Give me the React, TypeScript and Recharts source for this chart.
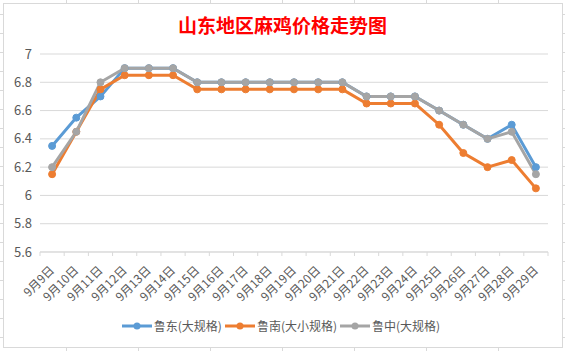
import React from 'react';
import { LineChart, Line, XAxis, YAxis, CartesianGrid, Legend } from 'recharts';

const categories = [
  '9月9日', '9月10日', '9月11日', '9月12日', '9月13日', '9月14日', '9月15日',
  '9月16日', '9月17日', '9月18日', '9月19日', '9月20日', '9月21日', '9月22日',
  '9月23日', '9月24日', '9月25日', '9月26日', '9月27日', '9月28日', '9月29日',
];
const ludong = [6.35, 6.55, 6.7, 6.9, 6.9, 6.9, 6.8, 6.8, 6.8, 6.8, 6.8, 6.8, 6.8, 6.7, 6.7, 6.7, 6.6, 6.5, 6.4, 6.5, 6.2];
const lunan = [6.15, 6.45, 6.75, 6.85, 6.85, 6.85, 6.75, 6.75, 6.75, 6.75, 6.75, 6.75, 6.75, 6.65, 6.65, 6.65, 6.5, 6.3, 6.2, 6.25, 6.05];
const luzhong = [6.2, 6.45, 6.8, 6.9, 6.9, 6.9, 6.8, 6.8, 6.8, 6.8, 6.8, 6.8, 6.8, 6.7, 6.7, 6.7, 6.6, 6.5, 6.4, 6.45, 6.15];
const yTicks = [5.6, 5.8, 6, 6.2, 6.4, 6.6, 6.8, 7];
const seriesKeys = ['s0', 's1', 's2'];
const seriesNames = ['鲁东(大规格)', '鲁南(大小规格)', '鲁中(大规格)'];
const seriesColors = ['#5B9BD5', '#ED7D31', '#A5A5A5'];
const title = '山东地区麻鸡价格走势图';

const data = categories.map((c, i) => ({ idx: i, label: c, s0: ludong[i], s1: lunan[i], s2: luzhong[i] }));
const xTicks: number[] = [];
categories.forEach((_, i) => { xTicks.push(i - 0.5); xTicks.push(i); });
xTicks.push(categories.length - 0.5);

const FONT = '"Noto Sans CJK SC", "Noto Sans", sans-serif';

const XTick = (props: any) => {
  const { x, y, payload } = props;
  const v = payload.value as number;
  if (!Number.isInteger(v)) {
    return <line x1={x} x2={x} y1={y} y2={y + 4} stroke="#d9d9d9" strokeWidth={1} />;
  }
  return (
    <text
      transform={`translate(${x + 3},${y + 19}) rotate(-45)`}
      textAnchor="end"
      fontSize={12}
      fontFamily={FONT}
      fill="#595959"
    >
      {categories[v]}
    </text>
  );
};

const renderLegend = () => (
  <div style={{ display: 'flex', justifyContent: 'center', alignItems: 'center', fontFamily: FONT, fontSize: 12, color: '#595959', lineHeight: '16px' }}>
    {seriesNames.map((n, i) => (
      <div key={n} style={{ display: 'flex', alignItems: 'center', marginRight: 3 }}>
        <svg width={30} height={10} style={{ display: 'block' }}>
          <line x1={0} x2={30} y1={5} y2={5} stroke={seriesColors[i]} strokeWidth={3} />
          <circle cx={15} cy={5} r={3.5} fill={seriesColors[i]} />
        </svg>
        <span style={{ marginLeft: 2 }}>{n}</span>
      </div>
    ))}
  </div>
);

export default function App() {
  return (
    <div
      style={{
        position: 'fixed', left: 0, top: 0, width: 565, height: 351, background: '#fff',
        backgroundImage:
          'repeating-linear-gradient(to bottom, transparent 0px, transparent 18px, #d9d9d9 18px, #d9d9d9 19px), repeating-linear-gradient(to right, transparent 0px, transparent 71px, #d9d9d9 71px, #d9d9d9 72px)',
        backgroundPosition: '0 -4px, -5px 0',
        overflow: 'hidden',
      }}
    >
      <div style={{ position: 'absolute', left: 3, top: 3, width: 560, height: 345, boxSizing: 'border-box', border: '1px solid #d9d9d9', background: '#fff' }} />
      <div style={{ position: 'absolute', left: 0, top: 14, width: 565, textAlign: 'center', fontFamily: FONT, fontSize: 19, fontWeight: 'bold', color: '#FF0000', lineHeight: '22px' }}>
        {title}
      </div>
      <div style={{ position: 'absolute', left: 0, top: 0 }}>
        <LineChart width={565} height={351} data={data} margin={{ top: 54, right: 17, bottom: 39, left: 0 }}>
          <CartesianGrid vertical={false} stroke="#d9d9d9" />
          <XAxis
            dataKey="idx"
            type="number"
            domain={[-0.5, categories.length - 0.5]}
            ticks={xTicks}
            interval={0}
            tickLine={false}
            tickSize={0}
            tickMargin={0}
            axisLine={{ stroke: '#d9d9d9' }}
            tick={<XTick />}
            height={60}
          />
          <YAxis
            domain={[5.6, 7]}
            ticks={yTicks}
            interval={0}
            axisLine={false}
            tickLine={false}
            width={40}
            tick={{ fill: '#595959', fontSize: 13, fontFamily: FONT }}
            tickFormatter={(v: number) => String(Number(v.toFixed(1)))}
          />
          {seriesKeys.map((k, i) => (
            <Line
              key={k}
              dataKey={k}
              name={seriesNames[i]}
              type="linear"
              stroke={seriesColors[i]}
              strokeWidth={3}
              dot={{ r: 3.5, fill: seriesColors[i], stroke: seriesColors[i], strokeWidth: 1 }}
              activeDot={false}
              isAnimationActive={false}
            />
          ))}
          <Legend
            verticalAlign="middle"
            align="center"
            layout="horizontal"
            content={renderLegend}
            wrapperStyle={{ top: 318, left: 0, width: 565, position: 'absolute' }}
          />
        </LineChart>
      </div>
    </div>
  );
}
